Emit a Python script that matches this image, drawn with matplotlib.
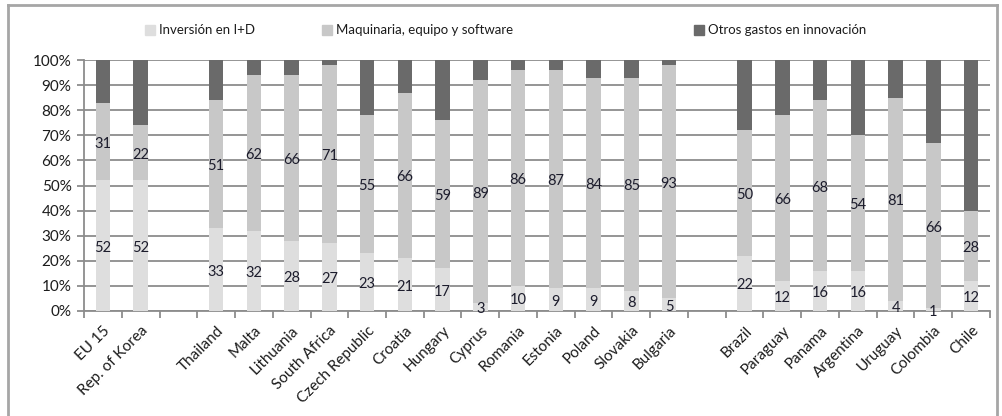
import matplotlib
matplotlib.use("Agg")
import matplotlib.pyplot as plt
import matplotlib.transforms as mtransforms
from matplotlib.patches import Rectangle
from matplotlib.lines import Line2D
import numpy as np

plt.rcParams['font.family'] = ['Lato', 'DejaVu Sans']

# categories ('' = empty slot used as separator)
countries = ['EU 15', 'Rep. of Korea', '',
             'Thailand', 'Malta', 'Lithuania', 'South Africa', 'Czech Republic',
             'Croatia', 'Hungary', 'Cyprus', 'Romania', 'Estonia', 'Poland',
             'Slovakia', 'Bulgaria', '',
             'Brazil', 'Paraguay', 'Panama', 'Argentina', 'Uruguay', 'Colombia', 'Chile']

# shares in % (None for separator slots)
inv_id = [52, 52, None, 33, 32, 28, 27, 23, 21, 17, 3, 10, 9, 9, 8, 5, None,
          22, 12, 16, 16, 4, 1, 12]
maquinaria = [31, 22, None, 51, 62, 66, 71, 55, 66, 59, 89, 86, 87, 84, 85, 93, None,
              50, 66, 68, 54, 81, 66, 28]

series_names = ['Inversión en I+D', 'Maquinaria, equipo y software',
                'Otros gastos en innovación']
colors = ['#dedede', '#c8c8c8', '#6a6a6a']
label_color = '#1c1c2c'

fig = plt.figure(figsize=(10.03, 4.16), dpi=100)
ax = fig.add_axes([84 / 1003, 105 / 416, 906 / 1003, 251 / 416])

x_pos = [i for i, c in enumerate(countries) if c]
a = np.array([inv_id[i] for i in x_pos], dtype=float)
b = np.array([maquinaria[i] for i in x_pos], dtype=float)
c = 100 - a - b

w = 0.38
ax.bar(x_pos, a, w, color=colors[0], zorder=3)
ax.bar(x_pos, b, w, bottom=a, color=colors[1], zorder=3)
ax.bar(x_pos, c, w, bottom=a + b, color=colors[2], zorder=3)

for xi, va_, vb in zip(x_pos, a, b):
    ax.text(xi, va_ / 2 - 0.8, f'{int(va_)}', ha='center', va='center',
            fontsize=10.5, color=label_color, zorder=4)
    ax.text(xi, va_ + vb / 2 - 0.8, f'{int(vb)}', ha='center', va='center',
            fontsize=10.5, color=label_color, zorder=4)

ax.set_xlim(-0.5, len(countries) - 0.5)
ax.set_ylim(0, 100)
ax.set_yticks(range(0, 101, 10))
ax.set_yticklabels([f'{v}%' for v in range(0, 101, 10)], fontsize=11,
                   color='#1c1c1c')
ax.yaxis.grid(True, color='#8c8c8c', linewidth=1.3, zorder=0)

ax.set_xticks(x_pos)
ax.set_xticklabels([countries[i] for i in x_pos], rotation=45, ha='right',
                   va='top', rotation_mode='anchor', fontsize=11,
                   color='#1c1c1c')
shift = mtransforms.ScaledTranslation(5 / 100, 0, fig.dpi_scale_trans)
for lbl in ax.get_xticklabels():
    lbl.set_transform(lbl.get_transform() + shift)
ax.tick_params(axis='x', which='major', length=0, pad=9)
ax.set_xticks(np.arange(-0.5, len(countries), 1), minor=True)
ax.tick_params(axis='x', which='minor', length=5, width=1.3, color='#8c8c8c')
ax.tick_params(axis='y', length=5, width=1.3, color='#8c8c8c', pad=4)

for s in ['top', 'right']:
    ax.spines[s].set_visible(False)
for s in ['left', 'bottom']:
    ax.spines[s].set_color('#8c8c8c')
    ax.spines[s].set_linewidth(1.3)

# legend drawn manually to match uneven spacing
leg_x = [145, 322, 694]
for lx, name, col in zip(leg_x, series_names, colors):
    fig.add_artist(Rectangle((lx / 1003, 1 - 35 / 416), 10 / 1003, 10 / 416,
                             transform=fig.transFigure, color=col))
    fig.text((lx + 14) / 1003, 1 - 30 / 416, name, fontsize=9.5,
             va='center', ha='left', color='#1c1c1c')

# outer chart frame
frame_col = '#a6a6a6'
fig.add_artist(Line2D([8 / 1003, 997 / 1003], [1 - 5 / 416, 1 - 5 / 416],
                      transform=fig.transFigure, color=frame_col, lw=2))
fig.add_artist(Line2D([8 / 1003, 8 / 1003], [0, 1 - 5 / 416],
                      transform=fig.transFigure, color=frame_col, lw=2))
fig.add_artist(Line2D([997 / 1003, 997 / 1003], [0, 1 - 5 / 416],
                      transform=fig.transFigure, color=frame_col, lw=2))

fig.savefig('out.png', dpi=100)
